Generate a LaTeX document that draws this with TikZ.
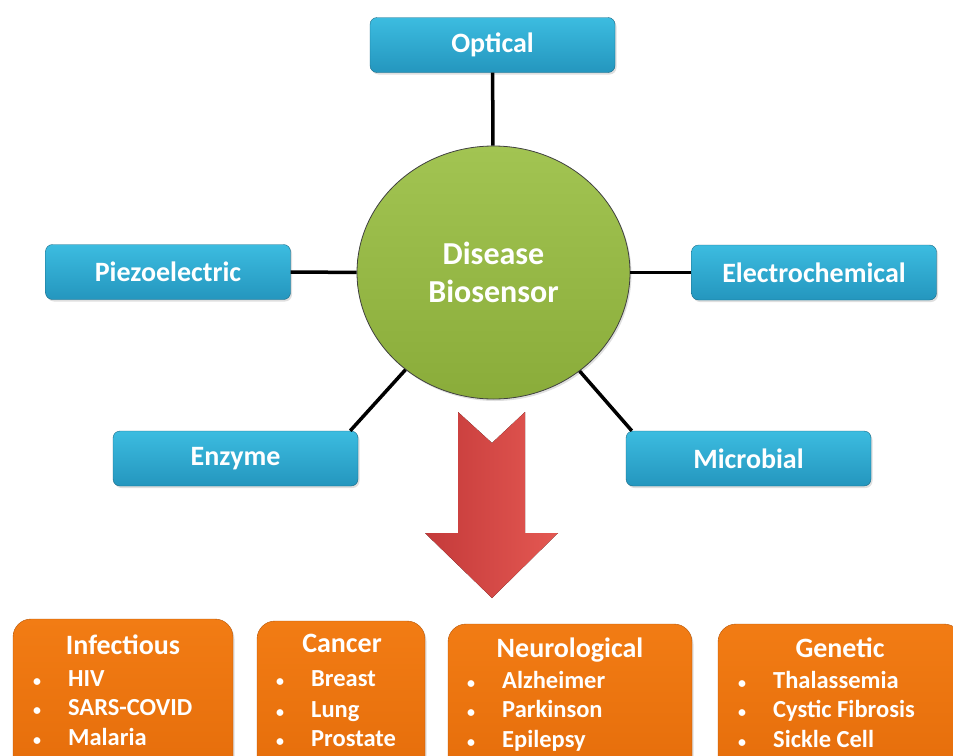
\documentclass[tikz,border=0pt]{standalone}
\usepackage{fontspec}
\setmainfont{Carlito}
\usetikzlibrary{shapes.geometric,shadows}

\definecolor{boxblue}{RGB}{60,188,224}
\definecolor{boxbluedark}{RGB}{36,150,190}
\definecolor{disorange}{RGB}{242,124,20}
\definecolor{disorangedark}{RGB}{228,108,10}
\definecolor{ballgreen}{RGB}{162,196,82}
\definecolor{ballgreendark}{RGB}{138,172,58}
\definecolor{arrowred}{RGB}{196,58,58}
\definecolor{arrowredlight}{RGB}{228,88,82}

\tikzset{
  sensor/.style={draw=boxbluedark!70!black, line width=0.4pt, rounded corners=7pt,
    top color=boxblue, bottom color=boxbluedark, minimum width=245pt, minimum height=55pt,
    inner sep=0pt, text=white, font=\fontsize{28}{32}\selectfont\bfseries,
    drop shadow={shadow xshift=1.5pt, shadow yshift=-2pt, opacity=0.25}},
  disease/.style={draw=disorangedark!80!black, line width=0.4pt, rounded corners=18pt,
    top color=disorange, bottom color=disorangedark, inner sep=0pt,
    drop shadow={shadow xshift=1.5pt, shadow yshift=-2pt, opacity=0.25}},
  title/.style={anchor=base, inner sep=0pt, text=white, font=\fontsize{28}{32}\selectfont\bfseries},
  item/.style={anchor=base west, inner sep=0pt, text=white, font=\fontsize{24.5}{28}\selectfont\bfseries},
  link/.style={line width=3.5pt, black},
}

\newcommand{\bul}[1]{\makebox[0pt]{\scalebox{0.65}{\textbullet}}\hspace{31pt}#1}

\begin{document}
\begin{tikzpicture}[x=1pt,y=-1pt]
\clip (0,0) rectangle (953,755);

%Disease Biosensor
\node[ellipse, draw=black!75, line width=0.8pt, top color=ballgreen, bottom color=ballgreendark,
  minimum width=273pt, minimum height=253pt, inner sep=0pt, text=white, align=center,
  font=\fontsize{32}{38}\selectfont\bfseries,
  drop shadow={shadow xshift=1.5pt, shadow yshift=-2pt, opacity=0.25}
] (biosensor) at (493.5,272.5){Disease\\Biosensor};

%Optical
\node[sensor] (optical) at (492.5,45){Optical};

%Piezoelectric
\node[sensor] (piezo) at (168,272){Piezoelectric};

%Electrochemical
\node[sensor] (electro) at (814,272.5){Electrochemical};

%Enzyme
\node[sensor] (enzyme) at (235.5,458.5){Enzyme};

%Microbial
\node[sensor] (microbial) at (748.5,458.5){Microbial};

\draw[link] (optical) -- (biosensor);
\draw[link] (piezo) -- (biosensor);
\draw[link] (electro) -- (biosensor);
\draw[link] ([xshift=-8pt]enzyme.north east) -- (biosensor);
\draw[link] ([xshift=6pt]microbial.north west) -- (biosensor);

%Arrow
\fill[left color=arrowred, right color=arrowredlight]
  (458,412) -- (492,443) -- (525,412) -- (525,533) -- (558,533)
  -- (492,598) -- (425,533) -- (458,533) -- cycle;

%%%%%%%%%%%%%%%%%Infectious%%%%%%%%%%%%%%
\node[disease, minimum width=220pt, minimum height=171pt] (infectious) at (123,704.5){};
\node[title] (inft) at (123,654){Infectious};
\node[item] (inf1) at (37,686){\bul{HIV}};
\node[item] (inf2) at (37,715){\bul{SARS-COVID}};
\node[item] (inf3) at (37,745){\bul{Malaria}};

%%%%%%%%%%%%%%%%%Cancer%%%%%%%%%%%%%%
\node[disease, minimum width=168pt, minimum height=169pt] (cancer) at (341,705.5){};
\node[title] (cant) at (342,652){Cancer};
\node[item] (can1) at (280,686){\bul{Breast}};
\node[item] (can2) at (280,717){\bul{Lung}};
\node[item] (can3) at (280,746){\bul{Prostate}};

%%%%%%%%%%%%%%%%%Neurological%%%%%%%%%%%%%%
\node[disease, minimum width=244pt, minimum height=166pt] (neuro) at (570,707){};
\node[title] (neut) at (570,657){Neurological};
\node[item] (neu1) at (471,688){\bul{Alzheimer}};
\node[item] (neu2) at (471,717){\bul{Parkinson}};
\node[item] (neu3) at (471,747){\bul{Epilepsy}};

%%%%%%%%%%%%%%%%%Genetic%%%%%%%%%%%%%%
\node[disease, minimum width=244pt, minimum height=166pt] (genetic) at (840,707){};
\node[title] (gent) at (840,657){Genetic};
\node[item] (gen1) at (742,688){\bul{Thalassemia}};
\node[item] (gen2) at (742,717){\bul{Cystic Fibrosis}};
\node[item] (gen3) at (742,747){\bul{Sickle Cell}};

\end{tikzpicture}
\end{document}
